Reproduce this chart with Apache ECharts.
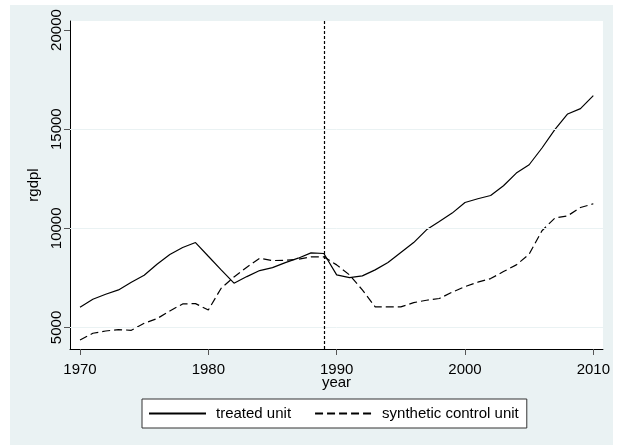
<!DOCTYPE html>
<html>
<head>
<meta charset="utf-8">
<script src="https://cdn.jsdelivr.net/npm/echarts@6/dist/echarts.min.js"></script>
<style>
html,body{margin:0;padding:0;background:#fff;}
#wrap{position:absolute;left:10px;top:5px;width:603px;height:440px;background:#eaf2f3;}
#chart{width:603px;height:440px;}
</style>
</head>
<body>
<div id="wrap"><div id="chart"></div></div>
<script>
const years = [1970,1971,1972,1973,1974,1975,1976,1977,1978,1979,1980,1981,1982,1983,1984,1985,1986,1987,1988,1989,1990,1991,1992,1993,1994,1995,1996,1997,1998,1999,2000,2001,2002,2003,2004,2005,2006,2007,2008,2009,2010];
const treated = [6020,6424,6676,6894,7283,7636,8191,8676,9030,9282,8590,7904,7232,7566,7870,8020,8272,8494,8760,8730,7651,7515,7600,7904,8272,8777,9282,9924,10343,10767,11303,11489,11656,12146,12787,13206,14050,14974,15767,16034,16691];
const synthetic = [4369,4707,4823,4890,4858,5212,5444,5833,6187,6202,5884,6979,7550,8040,8494,8374,8390,8440,8560,8560,8156,7651,6894,6040,6040,6040,6252,6373,6460,6780,7060,7283,7465,7818,8156,8696,9880,10515,10631,11050,11237];
const xTicks = [1970,1980,1990,2000,2010];
const yTicks = [5000,10000,15000,20000];
const gridValues = [5000,10000,15000];
const treatmentYear = 1989;
const seriesNames = ['treated unit','synthetic control unit'];

const font = "'Liberation Sans', Arial, sans-serif";
const chart = echarts.init(document.getElementById('chart'), null, {renderer:'canvas'});
const pair = (a) => years.map((y,i)=>[y,a[i]]);

chart.setOption({
  animation:false,
  backgroundColor:'transparent',
  textStyle:{fontFamily:font},
  grid:{left:60, top:16, width:534, height:328, show:true, backgroundColor:'#fff', borderWidth:0, containLabel:false},
  xAxis:{
    type:'value', min:1969.22, max:2010.75,
    name:'year', nameLocation:'middle', nameGap:26, nameMoveOverlap:false,
    nameTextStyle:{fontFamily:font, fontSize:15, color:'#000'},
    axisLine:{show:true, onZero:false, lineStyle:{color:'#000', width:1}},
    axisTick:{show:true, length:6, customValues:xTicks, lineStyle:{color:'#555'}},
    axisLabel:{customValues:xTicks, fontFamily:font, fontSize:15, color:'#000', margin:13, formatter:(v)=>String(v)},
    splitLine:{show:false}
  },
  yAxis:{
    type:'value', min:3914, max:20455,
    name:'rgdpl', nameLocation:'middle', nameGap:24, nameRotate:90,
    nameTextStyle:{fontFamily:font, fontSize:15, color:'#000'},
    axisLine:{show:true, onZero:false, lineStyle:{color:'#000', width:1}},
    axisTick:{show:true, length:6, customValues:yTicks, lineStyle:{color:'#555'}},
    axisLabel:{customValues:yTicks, rotate:90, fontFamily:font, fontSize:15, color:'#000', margin:6, formatter:(v)=>String(v)},
    splitLine:{show:false}
  },
  legend:{
    left:132, top:394,
    backgroundColor:'#fff', borderColor:'#333', borderWidth:1,
    padding:[7,8,7,6], itemWidth:57, itemHeight:14, itemGap:23,
    itemStyle:{color:'transparent', borderWidth:0, opacity:0},
    textStyle:{fontFamily:font, fontSize:15, color:'#000', padding:[0,0,0,5]},
    data:seriesNames
  },
  series:[
    {
      name:seriesNames[0], type:'line', data:pair(treated), symbol:'none',
      lineStyle:{color:'#000', width:1.2, type:'solid'}, itemStyle:{color:'#000'},
      z:3,
      markLine:{
        silent:true, symbol:'none', label:{show:false}, animation:false,
        data:[
          ...gridValues.map(v=>({yAxis:v, lineStyle:{color:'#eaf2f3', width:1, type:'solid'}})),
          {xAxis:treatmentYear, lineStyle:{color:'#000', width:1.2, type:[3,2]}}
        ]
      }
    },
    {
      name:seriesNames[1], type:'line', data:pair(synthetic), symbol:'none',
      lineStyle:{color:'#000', width:1.2, type:[8,4]}, itemStyle:{color:'#000'}, z:3
    }
  ]
});
</script>
</body>
</html>
